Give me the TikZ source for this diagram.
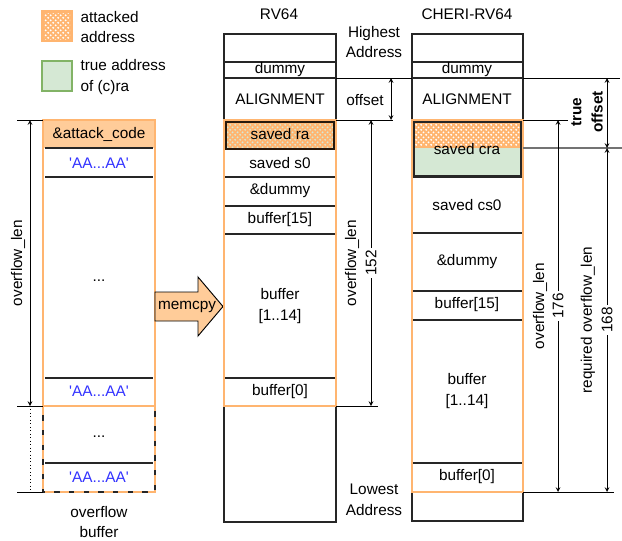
\documentclass[tikz,border=0pt]{standalone}
\usepackage{fontspec}
\setmainfont{Liberation Sans}
\usepackage{xcolor}
\usepackage{tikz}
\usetikzlibrary{arrows,patterns,calc}

\definecolor{atkline}{HTML}{FFB570}
\definecolor{atkfill}{HTML}{FFCC99}
\definecolor{trfill}{HTML}{D5E8D4}
\definecolor{trline}{HTML}{82B366}
\definecolor{aablue}{HTML}{3333FF}

% coarse dots for the attacked slots
\pgfdeclarepatternformonly{atkdots}{\pgfpointorigin}{\pgfqpoint{4pt}{4pt}}{\pgfqpoint{4pt}{4pt}}{
  \pgfpathcircle{\pgfqpoint{1pt}{1pt}}{0.85pt}
  \pgfpathcircle{\pgfqpoint{3pt}{3pt}}{0.85pt}
  \pgfusepath{fill}
}

\tikzset{
  cellline/.style={draw=black!85, line width=0.8pt},
  ovf/.style={draw=atkline, line width=2pt},
  dim/.style={<->, >=stealth, line width=0.6pt},
  tick/.style={line width=0.6pt},
  aa/.style={text=aablue},
  vlab/.style={rotate=90, inner sep=1pt, align=center},
  vnum/.style={rotate=90, inner sep=1.5pt, fill=white},
}

\begin{document}
\begin{tikzpicture}[x=0.75pt, y=-0.75pt, font=\fontsize{11.5}{15.5}\selectfont]
\useasboundingbox (0,0) rectangle (622,540);

% legend
\fill[atkline] (42,11) rectangle (72,41);
\fill[pattern=atkdots, pattern color=white] (44,13) rectangle (70,39);
\draw[ovf] (42,11) rectangle (72,41);
\node[anchor=west, align=left, inner sep=1pt] (legatk) at (79,27) {attacked\\address};
\draw[draw=trline, fill=trfill, line width=2pt] (42,61) rectangle (72,91);
\node[anchor=west, align=left, inner sep=1pt] (legtrue) at (79,77) {true address\\of (c)ra};

% overflow buffer
\fill[atkfill] (43,120) rectangle (155,148);
\draw[cellline, line width=1.4pt] (45,148) -- (153,148);
\draw[cellline] (45,177) -- (153,177);
\draw[cellline] (45,378) -- (153,378);
\draw[cellline] (43,406) rectangle (155,492);
\draw[cellline] (45,463) -- (153,463);
\draw[ovf] (43,120) rectangle (155,406);
\draw[ovf, dash pattern=on 7pt off 4pt] (43,406) rectangle (155,492);
\node (atkcode) at (99,134) {\&attack\_code};
\node[aa] (aa1) at (99,163) {\textquotesingle AA...AA\textquotesingle};
\node (bdots) at (99,281) {...};
\node[aa] (aa2) at (99,391) {\textquotesingle AA...AA\textquotesingle};
\node (bdots2) at (99,437) {...};
\node[aa] (aa3) at (99,477) {\textquotesingle AA...AA\textquotesingle};
\node[align=center] (ovbuf) at (99,522) {overflow\\buffer};

% length of the buffer
\coordinate (bt) at (30,120);
\coordinate (bb) at (30,406);
\coordinate (be) at (30,492);
\draw[tick] (17,120) -- (43,120);
\draw[tick] (17,406) -- (43,406);
\draw[tick] (17,492) -- (43,492);
\draw[dim] (bt) -- (bb);
\draw[tick, dotted] (bb) -- (be);
\node[vlab] (bovlen) at (18,263) {overflow\_len};

% memcpy
\draw[fill=atkfill, line width=0.7pt] (155,292) -- (198,292) -- (198,277) -- (223,306.5)
  -- (198,336) -- (198,321) -- (155,321) -- cycle;
\node (memcpy) at (187,307) {memcpy};

% RV64 stack
\node (rvtitle) at (279,14) {RV64};
\fill[atkline] (224,120) rectangle (336,149);
\fill[pattern=atkdots, pattern color=trfill] (224,120) rectangle (336,149);
\draw[cellline] (224,34) rectangle (336,522);
\foreach \y in {62,78,120,149,177,206,234,378,406}
  \draw[cellline] (224,\y) -- (336,\y);
\draw[ovf] (224,120) rectangle (336,406);
\draw[draw=black!80!brown, line width=0.9pt] (226,122) rectangle (334,149);
\node (rvdum) at (280,70) {dummy};
\node (rvalign) at (280,99) {ALIGNMENT};
\node (rvra) at (280,134) {saved ra};
\node (rvs0) at (280,163) {saved s0};
\node (rvpdum) at (280,191) {\&dummy};
\node (rvb15) at (280,220) {buffer[15]};
\node[align=center] (rvbuf) at (280,306) {buffer\\{[}1..14{]}};
\node (rvb0) at (280,392) {buffer[0]};

% CHERI-RV64 stack
\node (chtitle) at (467,14) {CHERI-RV64};
\fill[trfill] (412,120) rectangle (523,177);
\fill[atkline] (412,120) rectangle (523,148);
\fill[pattern=atkdots, pattern color=white] (412,121) rectangle (523,145);
\draw[cellline] (412,34) rectangle (523,521);
\foreach \y in {62,78,120,177,233,291,320,463,492}
  \draw[cellline] (412,\y) -- (523,\y);
\draw[ovf] (412,120) rectangle (523,492);
\draw[draw=black!85, line width=0.9pt] (414,122) rectangle (521,176);
\node (chdum) at (467,70) {dummy};
\node (chalign) at (467,99) {ALIGNMENT};
\node (chcra) at (467,149) {saved cra};
\node (chcs0) at (467,205) {saved cs0};
\node (chpdum) at (467,262) {\&dummy};
\node (chb15) at (467,305) {buffer[15]};
\node[align=center] (chbuf) at (467,391) {buffer\\{[}1..14{]}};
\node (chb0) at (467,477) {buffer[0]};

% address range
\node[align=center] (hiaddr) at (374,42) {Highest\\Address};
\node[align=center] (loaddr) at (374,500) {Lowest\\Address};

% offsets and lengths
\coordinate (ot) at (391,78);
\coordinate (ob) at (391,120);
\coordinate (rt) at (371,120);
\coordinate (rb) at (371,406);
\coordinate (ct) at (558,120);
\coordinate (cb) at (558,492);
\coordinate (tt) at (607,78);
\coordinate (tm) at (607,148);
\coordinate (tb) at (607,492);
\draw[tick] (336,78) -- (412,78);
\draw[tick] (523,78) -- (620,78);
\draw[tick] (336,120) -- (393,120);
\draw[tick] (523,120) -- (568,120);
\draw[tick] (336,406) -- (378,406);
\draw[tick] (523,492) -- (614,492);
\draw[draw=black!55, line width=1pt] (523,148) -- (622,148);
\draw[dim] (ot) -- (ob);
\node (offset) at (365,100) {offset};
\draw[dim] (rt) -- (rb);
\node[vlab] (rvovlen) at (352,263) {overflow\_len};
\node[vnum] (rvlen) at (rt |- 0,263) {152};
\draw[dim] (ct) -- (cb);
\node[vlab] (chovlen) at (540,306) {overflow\_len};
\node[vnum] (chlen) at (ct |- 0,306) {176};
\draw[dim] (tt) -- (tm);
\draw[dim] (tm) -- (tb);
\node[vlab, font=\fontsize{11.5}{16}\selectfont\bfseries] (troff) at (587,112) {true\\offset};
\node[vlab] (reqlen) at (588,320) {required overflow\_len};
\node[vnum] (reqnum) at (tt |- 0,320) {168};
\end{tikzpicture}
\end{document}
